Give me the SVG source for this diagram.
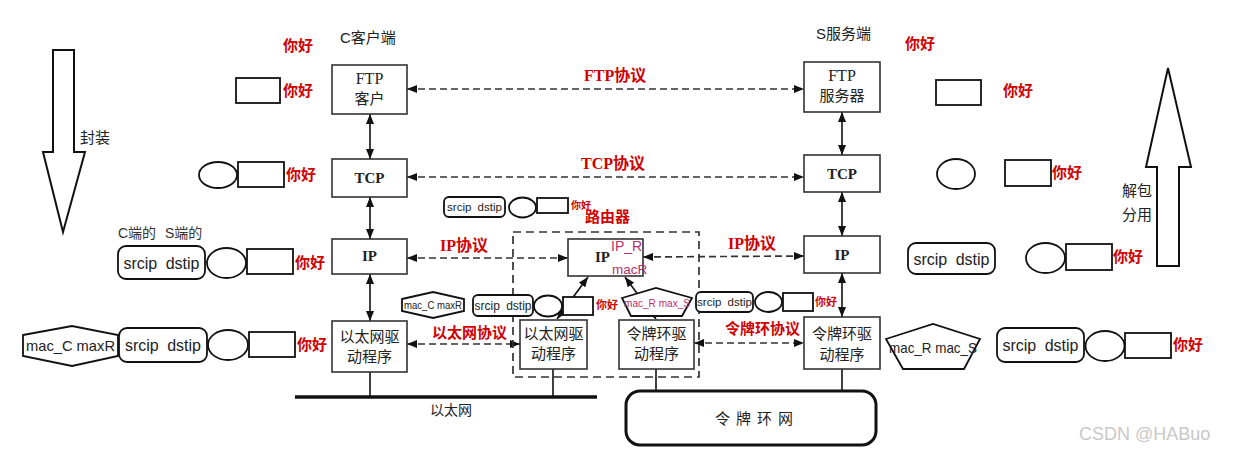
<svg xmlns="http://www.w3.org/2000/svg" width="1240" height="453" viewBox="0 0 1240 453">
<defs>
<style>
.box{fill:#fff;stroke:#333;stroke-width:1.6}
.shp{fill:#fff;stroke:#111;stroke-width:1.8}
.sans{font-family:"Liberation Sans","Noto Sans CJK SC",sans-serif}
.ser{font-family:"Liberation Serif","Noto Sans CJK SC",serif}
.blk{fill:#222}
.red{fill:#d00000;font-weight:bold;font-family:"Liberation Sans","Noto Sans CJK SC",sans-serif}
.redser{fill:#d00000;font-weight:bold;font-family:"Liberation Serif","Noto Sans CJK SC",serif}
.mag{fill:#b8306a;font-family:"Liberation Sans","Noto Sans CJK SC",sans-serif}
.solid{stroke:#111;stroke-width:1.6;fill:none}
.dash{stroke:#333;stroke-width:1.7;fill:none;stroke-dasharray:7 4}
.big{fill:#fff;stroke:#111;stroke-width:2}
</style>
<marker id="ah" viewBox="0 0 10 8" refX="10" refY="4" markerWidth="10" markerHeight="8" markerUnits="userSpaceOnUse" orient="auto-start-reverse">
<path d="M0,0 L10,4 L0,8 z" fill="#111"/>
</marker>
</defs>
<rect width="1240" height="453" fill="#fff"/>

<!-- big arrows -->
<g id="encap">
<polygon class="big" points="53,50 74,50 74,152 85,152 63,232 43,152 53,152"/>
<text class="sans blk" x="80" y="143" font-size="15">封装</text>
</g>
<g id="decap">
<polygon class="big" points="1168,68 1191,167 1179,167 1179,266 1157,266 1157,167 1146,167"/>
<text class="sans blk" x="1122" y="196" font-size="15">解包</text>
<text class="sans blk" x="1122" y="220" font-size="15">分用</text>
</g>

<!-- headers -->
<text class="sans blk" x="340" y="43" font-size="15">C客户端</text>
<text class="sans blk" x="816" y="39" font-size="15">S服务端</text>
<text class="red" x="283" y="51" font-size="15">你好</text>
<text class="red" x="905" y="49" font-size="15">你好</text>
<text class="sans" x="118" y="238" font-size="14" fill="#333" word-spacing="5">C端的 S端的</text>

<!-- connectors -->
<g id="connectors">
<line class="solid" x1="370" y1="114" x2="370" y2="159" marker-start="url(#ah)" marker-end="url(#ah)"/>
<line class="solid" x1="370" y1="197" x2="370" y2="239" marker-start="url(#ah)" marker-end="url(#ah)"/>
<line class="solid" x1="370" y1="274" x2="370" y2="321" marker-start="url(#ah)" marker-end="url(#ah)"/>
<line class="solid" x1="842" y1="112" x2="842" y2="155" marker-start="url(#ah)" marker-end="url(#ah)"/>
<line class="solid" x1="842" y1="192" x2="842" y2="236" marker-start="url(#ah)" marker-end="url(#ah)"/>
<line class="solid" x1="842" y1="273" x2="842" y2="317" marker-start="url(#ah)" marker-end="url(#ah)"/>
<line class="solid" x1="557" y1="319" x2="588" y2="277" marker-start="url(#ah)" marker-end="url(#ah)"/>
<line class="solid" x1="625" y1="277" x2="656" y2="319" marker-start="url(#ah)" marker-end="url(#ah)"/>
<line class="dash" x1="407" y1="89" x2="804" y2="89" marker-start="url(#ah)" marker-end="url(#ah)"/>
<line class="dash" x1="407" y1="177" x2="804" y2="177" marker-start="url(#ah)" marker-end="url(#ah)"/>
<line class="dash" x1="407" y1="258" x2="568" y2="258" marker-start="url(#ah)" marker-end="url(#ah)"/>
<line class="dash" x1="643" y1="257" x2="804" y2="256" marker-start="url(#ah)" marker-end="url(#ah)"/>
<line class="dash" x1="407" y1="344" x2="520" y2="344" marker-start="url(#ah)" marker-end="url(#ah)"/>
<line class="dash" x1="694" y1="343" x2="804" y2="343" marker-start="url(#ah)" marker-end="url(#ah)"/>
<line class="solid" x1="370" y1="372" x2="370" y2="397"/>
<line class="solid" x1="553" y1="369" x2="553" y2="397"/>
<line class="solid" x1="656" y1="369" x2="656" y2="391"/>
<line class="solid" x1="842" y1="369" x2="842" y2="391"/>
<line x1="295" y1="397" x2="597" y2="397" stroke="#111" stroke-width="3.5"/>
</g>

<!-- protocol labels -->
<text class="redser" x="584" y="81" font-size="16">FTP协议</text>
<text class="redser" x="581" y="169" font-size="16">TCP协议</text>
<text class="redser" x="440" y="251" font-size="16">IP协议</text>
<text class="redser" x="728" y="249" font-size="16">IP协议</text>
<text class="red" x="432" y="338" font-size="15">以太网协议</text>
<text class="red" x="725" y="334" font-size="15">令牌环协议</text>

<!-- router dashed box -->
<g id="router">
<rect x="513" y="232" width="186" height="145" fill="none" stroke="#333" stroke-width="1.7" stroke-dasharray="8 5"/>
<text class="red" x="585" y="222" font-size="15">路由器</text>
</g>

<!-- client stack -->
<g id="ftp-client">
<rect class="box" x="332" y="65" width="75" height="49"/>
<text class="ser blk" x="369.5" y="84" font-size="16" text-anchor="middle">FTP</text>
<text class="sans blk" x="369.5" y="104" font-size="15" text-anchor="middle">客户</text>
</g>
<g id="tcp-client">
<rect class="box" x="332" y="159" width="75" height="38"/>
<text class="ser blk" x="369.5" y="183" font-size="15" font-weight="bold" text-anchor="middle">TCP</text>
</g>
<g id="ip-client">
<rect class="box" x="332" y="239" width="75" height="35"/>
<text class="ser blk" x="369.5" y="261" font-size="15" font-weight="bold" text-anchor="middle">IP</text>
</g>
<g id="eth-client">
<rect class="box" x="332" y="321" width="75" height="51"/>
<text class="sans blk" x="369.5" y="342" font-size="15" text-anchor="middle">以太网驱</text>
<text class="sans blk" x="369.5" y="362" font-size="15" text-anchor="middle">动程序</text>
</g>

<!-- server stack -->
<g id="ftp-server">
<rect class="box" x="804" y="62" width="76" height="50"/>
<text class="ser blk" x="842" y="81" font-size="16" text-anchor="middle">FTP</text>
<text class="sans blk" x="842" y="101" font-size="15" text-anchor="middle">服务器</text>
</g>
<g id="tcp-server">
<rect class="box" x="804" y="155" width="76" height="37"/>
<text class="ser blk" x="842" y="179" font-size="15" font-weight="bold" text-anchor="middle">TCP</text>
</g>
<g id="ip-server">
<rect class="box" x="804" y="236" width="76" height="37"/>
<text class="ser blk" x="842" y="260" font-size="15" font-weight="bold" text-anchor="middle">IP</text>
</g>
<g id="tr-server">
<rect class="box" x="804" y="317" width="76" height="52"/>
<text class="sans blk" x="842" y="339" font-size="15" text-anchor="middle">令牌环驱</text>
<text class="sans blk" x="842" y="360" font-size="15" text-anchor="middle">动程序</text>
</g>

<!-- router nodes -->
<g id="ip-router">
<rect class="box" x="568" y="239" width="75" height="37"/>
<text class="ser blk" x="595" y="262" font-size="15" font-weight="bold">IP</text>
<text class="mag" x="611" y="251" font-size="14">IP_R</text>
<text class="mag" x="612" y="274" font-size="13.5">macR</text>
</g>
<g id="eth-router">
<rect class="box" x="520" y="320" width="67" height="49"/>
<text class="sans blk" x="553.5" y="339" font-size="15" text-anchor="middle">以太网驱</text>
<text class="sans blk" x="553.5" y="359" font-size="15" text-anchor="middle">动程序</text>
</g>
<g id="tr-router">
<rect class="box" x="619" y="320" width="75" height="49"/>
<text class="sans blk" x="656.5" y="339" font-size="15" text-anchor="middle">令牌环驱</text>
<text class="sans blk" x="656.5" y="359" font-size="15" text-anchor="middle">动程序</text>
</g>

<!-- networks -->
<g id="ethernet">
<text class="sans blk" x="451" y="415" font-size="14" text-anchor="middle">以太网</text>
</g>
<g id="token-ring">
<rect x="626" y="391" width="250" height="54" rx="14" fill="#fff" stroke="#111" stroke-width="3"/>
<text class="sans blk" x="757" y="424" font-size="15" text-anchor="middle" letter-spacing="6">令牌环网</text>
</g>

<!-- left packets -->
<g id="pkt-c-app">
<rect class="shp" x="236" y="78" width="44" height="25"/>
<text class="red" x="283" y="96" font-size="15">你好</text>
</g>
<g id="pkt-c-tcp">
<ellipse class="shp" cx="218" cy="175" rx="19" ry="13"/>
<rect class="shp" x="238" y="162" width="46" height="25"/>
<text class="red" x="286" y="180" font-size="15">你好</text>
</g>
<g id="pkt-c-ip">
<rect class="shp" x="118" y="246" width="87" height="33" rx="8"/>
<text class="sans blk" x="161.5" y="269" font-size="16" text-anchor="middle" word-spacing="4">srcip dstip</text>
<ellipse class="shp" cx="226.5" cy="263" rx="19.5" ry="15"/>
<rect class="shp" x="247" y="249" width="46" height="25"/>
<text class="red" x="295" y="268" font-size="15">你好</text>
</g>
<g id="pkt-c-eth">
<polygon class="shp" points="23,335 72,326 118,335 118,356 72,366 23,356"/>
<text class="sans blk" x="70.5" y="351" font-size="15" text-anchor="middle" textLength="89" lengthAdjust="spacingAndGlyphs">mac_C maxR</text>
<rect class="shp" x="119" y="328" width="88" height="34" rx="8"/>
<text class="sans blk" x="163" y="351" font-size="16" text-anchor="middle" word-spacing="4">srcip dstip</text>
<ellipse class="shp" cx="228" cy="345" rx="20" ry="15"/>
<rect class="shp" x="249" y="332" width="46" height="25"/>
<text class="red" x="297" y="350" font-size="15">你好</text>
</g>

<!-- router packets -->
<g id="pkt-r-ip">
<rect class="shp" x="444" y="197" width="61" height="20" rx="5"/>
<text class="sans blk" x="474.5" y="211" font-size="11.5" text-anchor="middle" word-spacing="3">srcip dstip</text>
<ellipse class="shp" cx="522.5" cy="207.5" rx="13.5" ry="10"/>
<rect class="shp" x="537" y="198" width="31" height="15"/>
<text class="red" x="571" y="209" font-size="10">你好</text>
</g>
<g id="pkt-r-eth">
<polygon class="shp" points="402,299 433,292 464,299 464,311 433,318 402,311"/>
<text class="sans blk" x="433" y="309" font-size="11.5" text-anchor="middle" textLength="58" lengthAdjust="spacingAndGlyphs">mac_C maxR</text>
<rect class="shp" x="473" y="295" width="60" height="21" rx="5"/>
<text class="sans blk" x="503" y="310" font-size="12" text-anchor="middle" word-spacing="3">srcip dstip</text>
<ellipse class="shp" cx="548" cy="306" rx="14" ry="10.5"/>
<rect class="shp" x="563" y="297" width="30" height="18"/>
<text class="red" x="596" y="309" font-size="11">你好</text>
</g>
<g id="pkt-r-tr">
<polygon class="shp" points="622,298 656,288 692,298 682,316 631,316"/>
<text class="mag" x="624" y="307" font-size="11.5" textLength="66" lengthAdjust="spacingAndGlyphs">mac_R max_S</text>
<rect class="shp" x="696" y="292" width="57" height="20" rx="5"/>
<text class="sans blk" x="724.5" y="306" font-size="11.5" text-anchor="middle" word-spacing="3">srcip dstip</text>
<ellipse class="shp" cx="768.5" cy="302" rx="13.5" ry="10"/>
<rect class="shp" x="783" y="293" width="30" height="18"/>
<text class="red" x="815" y="306" font-size="11">你好</text>
</g>

<!-- right packets -->
<g id="pkt-s-app">
<rect class="shp" x="936" y="80" width="45" height="25"/>
<text class="red" x="1003" y="96" font-size="15">你好</text>
</g>
<g id="pkt-s-tcp">
<ellipse class="shp" cx="956" cy="174" rx="19" ry="15"/>
<rect class="shp" x="1005" y="160" width="46" height="26"/>
<text class="red" x="1052" y="178" font-size="15">你好</text>
</g>
<g id="pkt-s-ip">
<rect class="shp" x="908" y="243" width="87" height="31" rx="8"/>
<text class="sans blk" x="951.5" y="265" font-size="16" text-anchor="middle" word-spacing="4">srcip dstip</text>
<ellipse class="shp" cx="1045.5" cy="258" rx="19.5" ry="15"/>
<rect class="shp" x="1066" y="244" width="46" height="26"/>
<text class="red" x="1113" y="262" font-size="15">你好</text>
</g>
<g id="pkt-s-tr">
<polygon class="shp" points="886,339 933,324 980,339 964,369 903,369"/>
<text class="sans blk" x="933" y="353" font-size="15" text-anchor="middle" textLength="88" lengthAdjust="spacingAndGlyphs">mac_R mac_S</text>
<rect class="shp" x="997" y="328" width="87" height="34" rx="8"/>
<text class="sans blk" x="1040.5" y="351" font-size="16" text-anchor="middle" word-spacing="4">srcip dstip</text>
<ellipse class="shp" cx="1105" cy="346" rx="19.5" ry="15"/>
<rect class="shp" x="1125" y="333" width="46" height="25"/>
<text class="red" x="1173" y="350" font-size="15">你好</text>
</g>

<text class="sans" x="1079" y="440" font-size="18" fill="#c8c8c8">CSDN @HABuo</text>
</svg>
